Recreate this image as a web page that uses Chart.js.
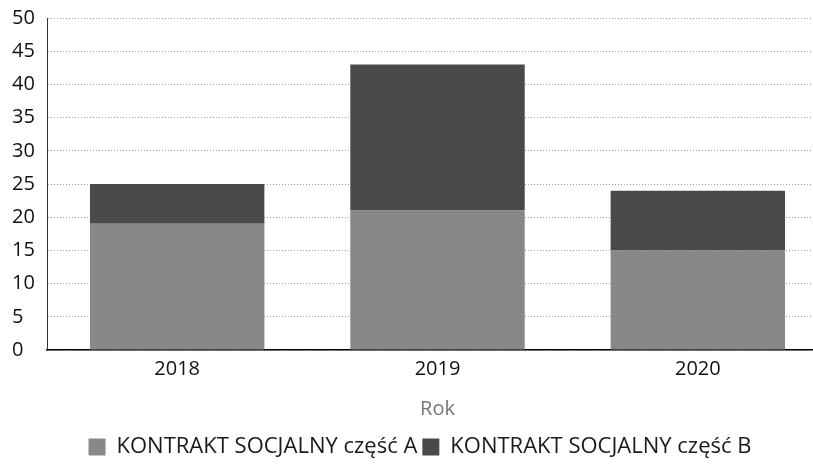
<!DOCTYPE html>
<html>
<head>
<meta charset="utf-8">
<script src="https://cdn.jsdelivr.net/npm/chart.js@4"></script>
<style>
  html, body { margin: 0; padding: 0; background: #fff; overflow: hidden; }
  #wrap { width: 813px; height: 464px; overflow: hidden; }
</style>
</head>
<body>
<div id="wrap"><canvas id="chart" width="828" height="464"></canvas></div>
<script>
// the source chart is cut off on the right, so the canvas is a bit wider than the window
const years   = ['2018', '2019', '2020'];
const partA   = [19, 21, 15];
const partB   = [6, 22, 9];
const yTicks  = [0, 5, 10, 15, 20, 25, 30, 35, 40, 45, 50];

const FONT = 'Open Sans';

new Chart(document.getElementById('chart'), {
  type: 'bar',
  data: {
    labels: years,
    datasets: [
      { label: 'KONTRAKT SOCJALNY część A', data: partA, backgroundColor: '#888888', borderWidth: 0 },
      { label: 'KONTRAKT SOCJALNY część B', data: partB, backgroundColor: '#4a4a4a', borderWidth: 0 },
    ],
  },
  options: {
    responsive: false,
    animation: false,
    layout: { autoPadding: false, padding: { top: 18, right: 0, left: 12, bottom: -4 } },
    datasets: { bar: { categoryPercentage: 0.67, barPercentage: 1.0 } },
    plugins: {
      tooltip: { enabled: false },
      legend: {
        position: 'bottom',
        labels: {
          boxWidth: 17, boxHeight: 17, padding: 5,
          color: '#1a1a1a', font: { family: FONT, size: 22 },
        },
      },
    },
    scales: {
      x: {
        stacked: true,
        grid: { display: false, drawTicks: false },
        border: { display: true, color: '#000', width: 1.5 },
        ticks: { color: '#111', font: { family: FONT, size: 20 }, padding: 7 },
        title: { display: true, text: 'Rok', color: '#777', font: { family: FONT, size: 20 }, padding: { top: 9, bottom: 10 } },
      },
      y: {
        stacked: true,
        min: 0, max: 50,
        afterBuildTicks: ax => { ax.ticks = yTicks.map(v => ({ value: v })); },
        afterFit: ax => { ax.width = 35; ax.paddingTop = 0; ax.paddingBottom = 0; },
        grid: { color: '#9a9a9a', lineWidth: 1, drawTicks: false },
        border: { display: true, color: '#333', width: 1, dash: [1, 2] },
        ticks: { color: '#111', font: { family: FONT, size: 20 }, padding: 12, crossAlign: 'far' },
      },
    },
  },
  plugins: [{
    id: 'dottedGrid',
    beforeInit: c => {
      c.options.scales.y.grid.borderDash = [1, 4];
    },
  }],
});
</script>
</body>
</html>
